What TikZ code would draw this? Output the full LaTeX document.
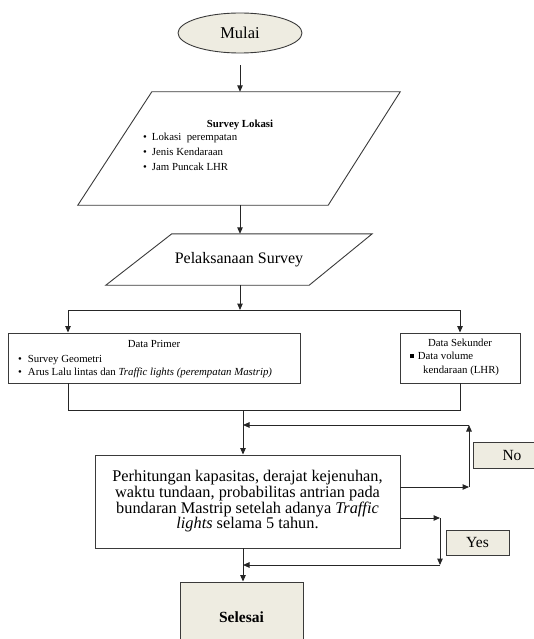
\documentclass[tikz,border=0pt]{standalone}
\usepackage{fontspec}
\setmainfont{Liberation Serif}
\usetikzlibrary{arrows.meta,shapes.geometric}
\definecolor{beige}{HTML}{EEECE1}
\definecolor{edge}{HTML}{3A3A3A}
\tikzset{
  box/.style={draw=edge,line width=0.9pt,inner sep=0pt},
  outline/.style={draw=edge,line width=0.9pt,line join=miter},
  frame/.style={inner sep=0pt},
  conn/.style={draw=black!85,line width=1pt},
  arr/.style={conn,-{Triangle[length=6.5pt,width=5.5pt]}},
  small/.style={font=\fontsize{10.8}{12}\selectfont,inner sep=0pt},
  big/.style={font=\fontsize{16.3}{15.7}\selectfont},
}
\begin{document}
\begin{tikzpicture}[x=1pt,y=-1pt]
\useasboundingbox (0,0) rectangle (533,639);
% start
\node[box,ellipse,fill=beige,minimum width=124pt,minimum height=40pt,font=\fontsize{16.5}{18}\selectfont] (mulai) at (240,33) {Mulai};
% survey lokasi
\node[frame,minimum width=322pt,minimum height=113pt] (lok) at (239,148.5) {};
\draw[outline] (lok.south west) -- ([xshift=74pt]lok.north west) -- (lok.north east) -- ([xshift=-72pt]lok.south east) -- cycle;
\node[small,anchor=base,font=\bfseries\fontsize{10.8}{12}\selectfont] (lt) at (240,128) {Survey Lokasi};
\node[small,anchor=base west] (l1) at (143,141) {•\hspace{5pt}Lokasi\ \ perempatan};
\node[small,anchor=base west] (l2) at (143,156) {•\hspace{5pt}Jenis Kendaraan};
\node[small,anchor=base west] (l3) at (143,171) {•\hspace{5pt}Jam Puncak LHR};
% pelaksanaan
\node[frame,minimum width=266pt,minimum height=51pt,font=\fontsize{16}{18}\selectfont] (pel) at (239,259.5) {Pelaksanaan Survey};
\draw[outline] (pel.south west) -- ([xshift=66pt]pel.north west) -- (pel.north east) -- ([xshift=-63pt]pel.south east) -- cycle;
% data primer
\node[box,minimum width=292pt,minimum height=50pt] (primer) at (154,358) {};
\node[small,anchor=base] (pt) at (154,347) {Data Primer};
\node[small,anchor=base west] (p1) at (18,362) {•\hspace{6pt}Survey Geometri};
\node[small,anchor=base west] (p2) at (18,375) {•\hspace{6pt}Arus Lalu lintas dan \textit{Traffic lights (perempatan Mastrip)}};
% data sekunder
\node[box,minimum width=120pt,minimum height=50pt] (sek) at (460,358) {};
\node[small,anchor=base] (st) at (460,346) {Data Sekunder};
\node[small,anchor=base west] (s1) at (410,359) {\rule[0.2ex]{0.33em}{0.33em}\hspace{4pt}Data volume};
\node[small,anchor=base west] (s2) at (423,373) {kendaraan (LHR)};
% calculation
\node[box,big,minimum width=305pt,minimum height=93pt,align=center] (calc) at (247.5,501.5) {Perhitungan kapasitas, derajat kejenuhan,\\ waktu tundaan, probabilitas antrian pada\\ bundaran Mastrip setelah adanya \textit{Traffic}\\ \textit{lights} selama 5 tahun.};
% no / yes
\node[box,fill=beige,minimum width=78pt,minimum height=26pt,font=\fontsize{15.5}{17}\selectfont] (no) at (512,455) {No};
\node[box,fill=beige,minimum width=63pt,minimum height=25pt,font=\fontsize{15.5}{17}\selectfont] (yes) at (477.5,542.5) {Yes};
% end
\node[box,fill=beige,minimum width=123pt,minimum height=70pt,font=\bfseries\fontsize{15.5}{17}\selectfont] (sel) at (241.5,617) {Selesai};
% connectors
\draw[arr,shorten <=12pt] (mulai.south) -- (mulai.south |- lok.north);
\draw[arr] (lok.south -| mulai.south) -- (pel.north -| mulai.south);
\coordinate (split) at (240,310);
\draw[arr] (pel.south -| split) -- (split);
\coordinate (pl) at (68,310);
\draw[arr] (split) -- (pl) -- (pl |- primer.north);
\draw[arr] (split) -| (sek.north);
\coordinate (ml) at (68,410);
\draw[conn] (pl |- primer.south) -- (ml) -| (sek.south);
\coordinate (j) at (243,410);
\draw[arr] (j) -- (j |- calc.north);
\coordinate (nb) at (469,487);
\coordinate (nt) at (469,425);
\draw[arr] (calc.east |- nb) -- (nb);
\draw[arr] (nb) -- (nt);
\draw[arr] (nt) -- (j |- nt);
\coordinate (yb) at (440,518);
\coordinate (ye) at (440,565);
\draw[arr] (calc.east |- yb) -- (yb);
\draw[arr] (yb) -- (ye);
\draw[arr] (ye) -- (j |- ye);
\draw[arr] (calc.south -| j) -- (sel.north -| j);
\end{tikzpicture}
\end{document}
